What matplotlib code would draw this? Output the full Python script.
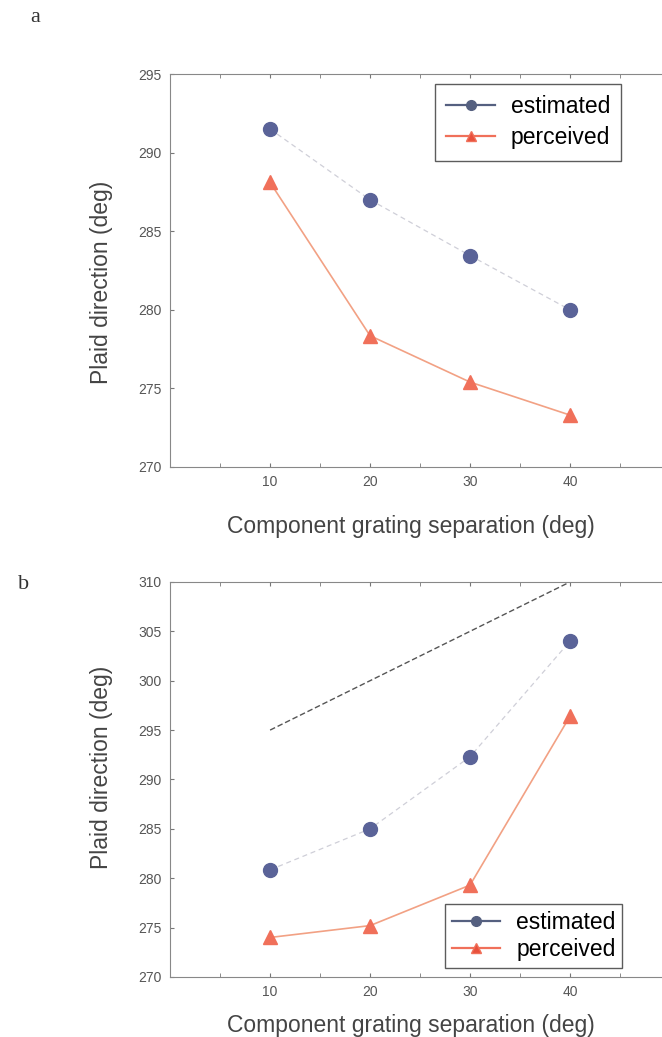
import matplotlib.pyplot as plt

plt.rcParams['font.family'] = ['Liberation Sans', 'DejaVu Sans']

# Data
separation = [10, 20, 30, 40]
est_a = [291.5, 287.0, 283.45, 280.0]
perc_a = [288.1, 278.35, 275.4, 273.3]
est_b = [280.85, 285.0, 292.3, 304.0]
perc_b = [274.0, 275.2, 279.3, 296.4]
ref_x = [10, 40]
ref_b = [295.0, 310.0]

blue = '#5a6398'
orange = '#f0705a'
orange_line = '#f2a184'
text_c = '#444444'

fig = plt.figure(figsize=(6.62, 10.37), dpi=100)
ax1 = fig.add_axes([0.257, 0.5497, 0.755, 0.3789])
ax2 = fig.add_axes([0.257, 0.0579, 0.755, 0.3809])


def style(ax, ylim, yticks, xlab_y, ylab_y):
    ax.set_xlim(0, 50)
    ax.set_ylim(*ylim)
    ax.set_xticks([10, 20, 30, 40])
    ax.set_xticks([5, 15, 25, 35, 45], minor=True)
    ax.set_yticks(yticks)
    ax.tick_params(direction='in', labelsize=10, labelcolor='#555555',
                   color='#777777', length=3, pad=6, top=True, right=True)
    ax.tick_params(which='minor', direction='in', length=3, color='#777777',
                   top=True)
    for s in ax.spines.values():
        s.set_color('#888888')
        s.set_linewidth(0.8)
    ax.set_ylabel('Plaid direction (deg)', fontsize=16.5, color=text_c)
    ax.set_xlabel('Component grating separation (deg)', fontsize=16.5, color=text_c)
    ax.yaxis.set_label_coords(-0.114, ylab_y)
    ax.xaxis.set_label_coords(0.482, xlab_y)


# panel a
ax1.plot(separation, est_a, color='#cfcfd8', lw=0.9, ls=(0, (4, 3)))
ax1.plot(separation, est_a, 'o', color=blue, ms=10, mec=blue)
ax1.plot(separation, perc_a, '-', color=orange_line, lw=1.2)
ax1.plot(separation, perc_a, '^', color=orange, ms=10)
style(ax1, (270, 295), [270, 275, 280, 285, 290, 295], -0.122, 0.47)
h1 = ax1.plot([], [], '-o', color='#556080', ms=7, lw=1.6, label='estimated')[0]
h2 = ax1.plot([], [], '-^', color=orange, mfc='#e8503c', ms=7, lw=1.6,
              label='perceived')[0]
ax1.legend(handles=[h1, h2], loc='upper left', bbox_to_anchor=(0.53, 0.975),
           fontsize=16.5, frameon=True, fancybox=False, edgecolor='#333333',
           handlelength=2.1, handletextpad=0.7, borderpad=0.5,
           labelspacing=0.35, borderaxespad=0)

# panel b
ax2.plot(ref_x, ref_b, color='#555555', lw=1.0, ls=(0, (4, 2)))
ax2.plot(separation, est_b, color='#cfcfd8', lw=0.9, ls=(0, (4, 3)))
ax2.plot(separation, est_b, 'o', color=blue, ms=10, mec=blue)
ax2.plot(separation, perc_b, '-', color=orange_line, lw=1.2)
ax2.plot(separation, perc_b, '^', color=orange, ms=10)
style(ax2, (270, 310), [270, 275, 280, 285, 290, 295, 300, 305, 310], -0.093, 0.53)
h1 = ax2.plot([], [], '-o', color='#556080', ms=7, lw=1.6, label='estimated')[0]
h2 = ax2.plot([], [], '-^', color=orange, mfc='#e8503c', ms=7, lw=1.6,
              label='perceived')[0]
ax2.legend(handles=[h1, h2], loc='lower left', bbox_to_anchor=(0.55, 0.022),
           fontsize=16.5, frameon=True, fancybox=False, edgecolor='#333333',
           handlelength=2.1, handletextpad=0.7, borderpad=0.3,
           labelspacing=0.2, borderaxespad=0)

fig.text(0.053, 0.983, 'a', fontsize=16, family='Liberation Serif', color='#333333',
         ha='center', va='center')
fig.text(0.035, 0.436, 'b', fontsize=16, family='Liberation Serif', color='#333333',
         ha='center', va='center')

fig.savefig('out.png', dpi=100, facecolor='white')
